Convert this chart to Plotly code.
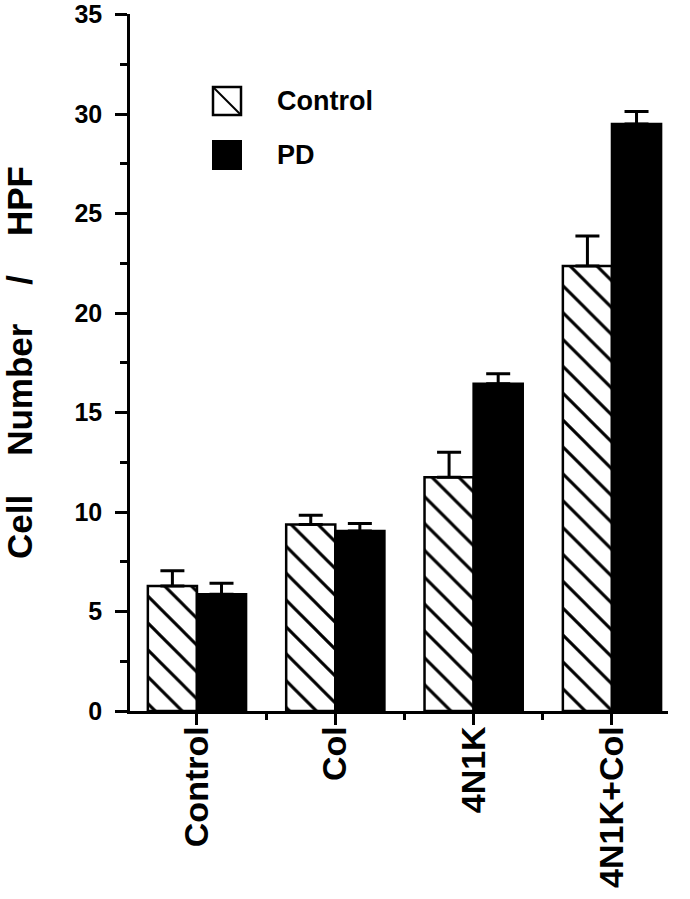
import plotly.graph_objects as go

categories = ["Control", "Col", "4N1K", "4N1K+Col"]
control_vals = [6.28, 9.37, 11.75, 22.37]
control_err = [0.77, 0.47, 1.25, 1.5]
pd_vals = [5.87, 9.05, 16.45, 29.5]
pd_err = [0.55, 0.37, 0.5, 0.63]
y_ticks = [0, 5, 10, 15, 20, 25, 30, 35]
y_minor = [2.5, 7.5, 12.5, 17.5, 22.5, 27.5, 32.5]

xpos = list(range(len(categories)))
x_minor = [i + 0.5 for i in xpos[:-1]]

FONT = "Liberation Sans, Arial, Helvetica, sans-serif"

fig = go.Figure()
fig.add_trace(go.Bar(
    x=xpos, y=control_vals, name="Control",
    marker=dict(color="white", line=dict(color="black", width=2.5),
                pattern=dict(shape="\\", size=19, solidity=0.16,
                             fgcolor="black", bgcolor="white", fgopacity=1,
                             fillmode="replace")),
    error_y=dict(type="data", array=control_err, arrayminus=[0] * 4,
                 symmetric=False, color="black", thickness=3, width=12),
    showlegend=False,
))
fig.add_trace(go.Bar(
    x=xpos, y=pd_vals, name="PD",
    marker=dict(color="black", line=dict(color="black", width=2.5)),
    error_y=dict(type="data", array=pd_err, arrayminus=[0] * 4,
                 symmetric=False, color="black", thickness=3, width=12),
    showlegend=False,
))

L, R, T, B = 130, 668, 14, 711
def px(x):
    return (x - L) / (R - L)
def py(y):
    return (B - y) / (B - T)

fig.add_shape(type="rect", xref="paper", yref="paper",
              x0=px(213), x1=px(241), y0=py(115), y1=py(87),
              fillcolor="white", line=dict(color="black", width=2.5))
fig.add_shape(type="line", xref="paper", yref="paper",
              x0=px(214), x1=px(240), y0=py(88), y1=py(114),
              line=dict(color="black", width=2))
fig.add_shape(type="rect", xref="paper", yref="paper",
              x0=px(213), x1=px(241), y0=py(169), y1=py(141),
              fillcolor="black", line=dict(color="black", width=2))
fig.add_annotation(xref="paper", yref="paper", x=px(275), y=py(101),
                   text="Control", showarrow=False, xanchor="left", yanchor="middle",
                   font=dict(family=FONT, size=27, color="black", weight="bold"))
fig.add_annotation(xref="paper", yref="paper", x=px(275), y=py(155),
                   text="PD", showarrow=False, xanchor="left", yanchor="middle",
                   font=dict(family=FONT, size=27, color="black", weight="bold"))

nb = "\u00a0"
fig.update_layout(
    width=690, height=899,
    margin=dict(l=L, r=690 - R, t=T, b=899 - B, autoexpand=False),
    paper_bgcolor="white", plot_bgcolor="white",
    barmode="group", bargap=0.29, bargroupgap=0,
    font=dict(family=FONT, color="black"),
    xaxis=dict(
        range=[-0.484, 3.405], tickmode="array", tickvals=xpos, ticktext=categories,
        tickangle=-90, ticks="outside", ticklen=11, tickwidth=2.5, tickcolor="black",
        showline=True, linecolor="black", linewidth=2.5, showgrid=False, zeroline=False,
        tickfont=dict(family=FONT, size=34, color="black", weight="bold"),
        ticklabelstandoff=-12, ticklabeloverflow="allow",
        minor=dict(tickmode="array", tickvals=x_minor, ticks="outside", ticklen=6,
                   tickwidth=2.5, tickcolor="black"),
    ),
    yaxis=dict(
        range=[0, 35.03], tickmode="array", tickvals=y_ticks, ticks="outside",
        ticklen=12, tickwidth=2.5, tickcolor="black",
        showline=True, linecolor="black", linewidth=2.5, showgrid=False, zeroline=False,
        tickfont=dict(family=FONT, size=25, color="black", weight="bold"),
        ticklabelstandoff=8, ticklabeloverflow="allow",
        minor=dict(tickmode="array", tickvals=y_minor, ticks="outside", ticklen=7,
                   tickwidth=2.5, tickcolor="black"),
        title=dict(text=f"Cell{nb*4}Number{nb*4}/{nb*4}HPF",
                   font=dict(family=FONT, size=35, color="black", weight="bold"),
                   standoff=36),
    ),
)

# remove the browser's default 8px body margin so the figure fills the window exactly
fig.write_html("out.html", config={"displayModeBar": False},
               post_script="document.body.style.margin='0';")
